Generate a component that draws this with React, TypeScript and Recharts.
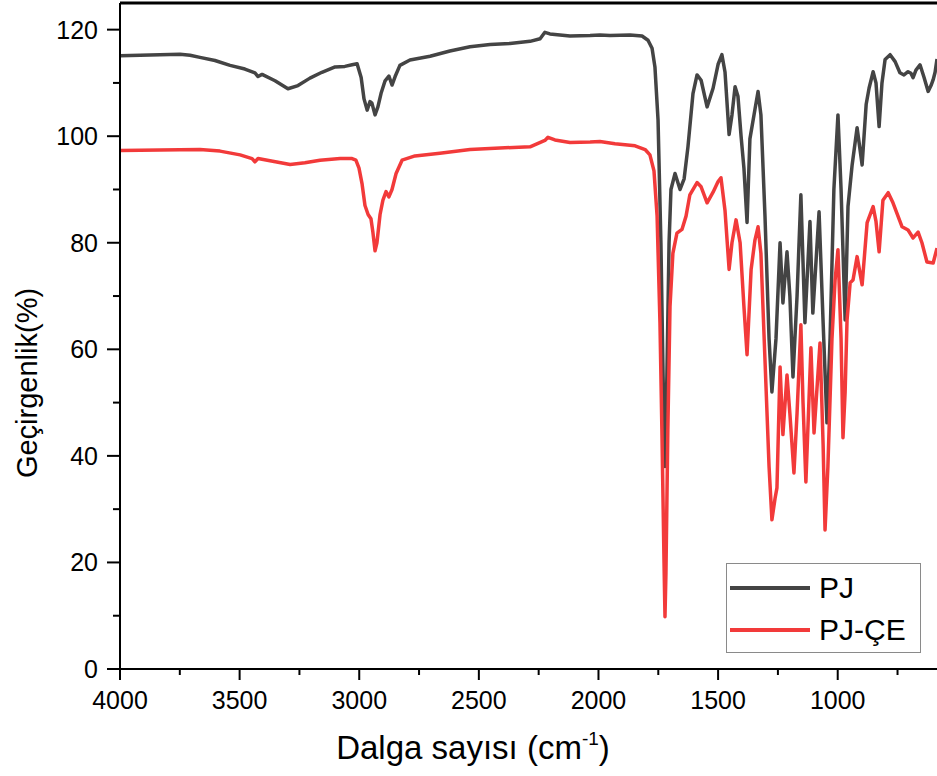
import { LineChart, Line, XAxis, YAxis, ReferenceLine, Legend, Label } from "recharts";

// PJ (black) spectrum, wavenumber (cm-1) and transmittance (%)
const pjWave = [
  4000, 3916, 3833, 3749, 3707, 3666, 3603, 3540, 3478, 3436, 3423, 3406, 3352, 3298, 3256, 3206,
  3156, 3101, 3060, 3030, 3009, 2992, 2980, 2967, 2955, 2947, 2934, 2922, 2909, 2892, 2876, 2863,
  2850, 2830, 2788, 2704, 2621, 2537, 2453, 2370, 2286, 2244, 2224, 2203, 2119, 2035, 1994, 1952,
  1868, 1818, 1793, 1776, 1764, 1751, 1739, 1730, 1722, 1714, 1705, 1697, 1680, 1659, 1642, 1626,
  1605, 1588, 1571, 1546, 1521, 1500, 1484, 1471, 1454, 1442, 1429, 1417, 1404, 1392, 1379, 1367,
  1346, 1333, 1321, 1304, 1287, 1275, 1258, 1241, 1229, 1212, 1200, 1187, 1170, 1154, 1137, 1116,
  1104, 1078, 1061, 1045, 1032, 1016, 999, 986, 969, 957, 940, 919, 898, 881, 869, 852,
  840, 827, 815, 802, 781, 760, 740, 723, 706, 694, 685, 673, 656, 639, 622, 610,
  601, 593, 585,
];
const pjValue = [
  115.1, 115.2, 115.3, 115.4, 115.2, 114.8, 114.2, 113.3, 112.6, 111.9, 111.2, 111.6, 110.4, 108.9, 109.5, 110.9,
  112, 113, 113.1, 113.4, 113.6, 111, 107, 104.9, 106.5, 106.2, 104, 105.5, 108, 110.4, 111.3, 109.6,
  111.2, 113.3, 114.3, 115, 116, 116.8, 117.2, 117.4, 117.8, 118.3, 119.5, 119.2, 118.8, 118.9, 119, 118.9,
  119, 118.8, 118, 116.5, 113, 103, 80, 55, 38, 55, 80, 90, 93, 90, 92, 98,
  108, 111.5, 110.5, 105.5, 109, 113.5, 115.3, 112, 100.3, 104, 109.3, 107.5, 100, 94, 83.8, 99.5,
  105, 108.4, 104, 85, 62, 52, 62, 80, 68.7, 78.3, 70, 54.8, 70, 89, 65, 84,
  66.8, 85.8, 65, 46.2, 62, 90, 104, 90, 65.5, 86.8, 94.5, 101.6, 94.6, 106, 109, 112.1,
  110, 101.8, 110, 114.4, 115.3, 114, 111.9, 111.5, 112.1, 111.8, 111, 112.4, 113.4, 111, 108.4, 109.5,
  110.6, 112, 114.5,
];

// PJ-ÇE (red) spectrum
const pjceWave = [
  4000, 3833, 3666, 3582, 3498, 3448, 3436, 3423, 3373, 3289, 3227, 3164, 3080, 3030, 3014, 3001,
  2988, 2976, 2963, 2951, 2943, 2934, 2926, 2913, 2901, 2888, 2876, 2863, 2846, 2821, 2767, 2663,
  2537, 2412, 2286, 2224, 2211, 2182, 2119, 2035, 1994, 1931, 1847, 1805, 1785, 1768, 1755, 1743,
  1735, 1726, 1722, 1718, 1710, 1701, 1689, 1672, 1651, 1634, 1618, 1588, 1571, 1546, 1521, 1500,
  1488, 1471, 1454, 1442, 1425, 1408, 1392, 1379, 1362, 1346, 1333, 1321, 1304, 1287, 1275, 1262,
  1254, 1241, 1229, 1212, 1200, 1183, 1170, 1154, 1145, 1133, 1112, 1099, 1074, 1061, 1053, 1041,
  1024, 1011, 999, 986, 978, 969, 961, 948, 936, 919, 898, 877, 852, 840, 827, 811,
  789, 769, 731, 706, 685, 664, 648, 627, 601, 585,
];
const pjceValue = [
  97.3, 97.4, 97.5, 97.2, 96.5, 95.8, 95.2, 95.8, 95.4, 94.7, 95, 95.5, 95.8, 95.8, 95.5, 94,
  91, 87, 85.3, 84.5, 82, 78.5, 80, 85.3, 88, 89.6, 88.6, 90, 93, 95.5, 96.3, 96.8,
  97.5, 97.8, 98, 99.2, 99.8, 99.3, 98.8, 98.9, 99, 98.6, 98.2, 97.5, 96.5, 93.5, 85, 65,
  45, 20, 9.8, 18, 45, 68, 78, 81.8, 82.5, 85, 89, 91.3, 90.5, 87.5, 89.5, 91.5,
  92.2, 86, 75, 80, 84.3, 80, 68, 59, 75, 80.5, 83, 78, 58, 38, 28, 32,
  34, 56.7, 44, 55.2, 48, 36.8, 48, 64.6, 50, 35.1, 60.3, 44.3, 61.2, 42, 26.1, 38,
  62, 73, 78.7, 62, 43.4, 52, 65.5, 72.5, 73, 77.4, 72.1, 83.8, 86.8, 84, 78.3, 88,
  89.4, 87.5, 83, 82.4, 80.9, 82, 80, 76.4, 76.2, 79,
];

const xTicks = [4000, 3750, 3500, 3250, 3000, 2750, 2500, 2250, 2000, 1750, 1500, 1250, 1000, 750];
const xLabels = [4000, 3500, 3000, 2500, 2000, 1500, 1000];
const yTicks = [0, 10, 20, 30, 40, 50, 60, 70, 80, 90, 100, 110, 120];
const yLabels = [0, 20, 40, 60, 80, 100, 120];

const pjData = pjWave.map((w, i) => ({ w, v: pjValue[i] }));
const pjceData = pjceWave.map((w, i) => ({ w, v: pjceValue[i] }));

const FONT = "Arial, 'Liberation Sans', sans-serif";
const BLACK = "#444444";
const RED = "#f23a3a";

const XTick = (props: any) => {
  const { x, y, payload } = props;
  const major = xLabels.includes(payload.value);
  return (
    <g>
      <line x1={x} x2={x} y1={y} y2={y + (major ? 11 : 6)} stroke="#000" strokeWidth={2} />
      {major && (
        <text x={x} y={y + 40} textAnchor="middle" fontSize={25} fontFamily={FONT} fill="#000">
          {payload.value}
        </text>
      )}
    </g>
  );
};

const YTick = (props: any) => {
  const { x, y, payload } = props;
  const major = yLabels.includes(payload.value);
  return (
    <g>
      <line x1={x} x2={x - (major ? 13 : 7)} y1={y} y2={y} stroke="#000" strokeWidth={2} />
      {major && (
        <text x={x - 22} y={y + 9} textAnchor="end" fontSize={25} fontFamily={FONT} fill="#000">
          {payload.value}
        </text>
      )}
    </g>
  );
};

const LegendBox = () => (
  <div
    style={{
      width: 195,
      height: 90,
      border: "1px solid #8a8a8a",
      background: "#fff",
      boxSizing: "border-box",
      fontFamily: FONT,
      fontSize: 30,
      color: "#000",
    }}
  >
    {[
      { name: "PJ", color: BLACK },
      { name: "PJ-ÇE", color: RED },
    ].map((item, i) => (
      <div key={item.name} style={{ display: "flex", alignItems: "center", height: 42, marginTop: i === 0 ? 3 : 0 }}>
        <div style={{ width: 80, height: 4, background: item.color, marginLeft: 3, marginRight: 9 }} />
        <span>{item.name}</span>
      </div>
    ))}
  </div>
);

export default function App() {
  return (
    <div style={{ width: 937, height: 776, background: "#fff", fontFamily: FONT }}>
      <style>{`body{margin:0}`}</style>
      <LineChart width={937} height={776} margin={{ top: 3, right: 0, bottom: 0, left: 0 }}>
        <XAxis
          type="number"
          dataKey="w"
          domain={[585, 4000]}
          reversed
          allowDataOverflow
          ticks={xTicks}
          interval={0}
          tick={<XTick />}
          tickLine={false}
          tickSize={0}
          tickMargin={0}
          height={107}
          axisLine={{ stroke: "#000", strokeWidth: 2 }}
        >
          <Label
            content={() => (
              <text x={473} y={759} textAnchor="middle" fontSize={33} fontFamily={FONT} fill="#000">
                Dalga sayısı (cm
                <tspan dy={-14} fontSize={19}>-1</tspan>
                <tspan dy={14}>)</tspan>
              </text>
            )}
          />
        </XAxis>
        <YAxis
          type="number"
          domain={[0, 125]}
          ticks={yTicks}
          interval={0}
          tick={<YTick />}
          tickLine={false}
          tickSize={0}
          tickMargin={0}
          width={120}
          allowDataOverflow
          axisLine={{ stroke: "#000", strokeWidth: 2 }}
        >
          <Label
            content={() => (
              <text
                x={37}
                y={383}
                transform="rotate(-90 37 383)"
                textAnchor="middle"
                fontSize={29}
                fontFamily={FONT}
                fill="#000"
              >
                Geçirgenlik(%)
              </text>
            )}
          />
        </YAxis>
        <ReferenceLine y={125} stroke="#000" strokeWidth={3} ifOverflow="extendDomain" />
        <Line
          data={pjData}
          dataKey="v"
          type="linear"
          stroke={BLACK}
          strokeWidth={3.5}
          strokeLinejoin="round"
          dot={false}
          isAnimationActive={false}
          name="PJ"
        />
        <Line
          data={pjceData}
          dataKey="v"
          type="linear"
          stroke={RED}
          strokeWidth={3.5}
          strokeLinejoin="round"
          dot={false}
          isAnimationActive={false}
          name="PJ-ÇE"
        />
        <Legend
          layout="horizontal"
          verticalAlign="middle"
          align="center"
          content={<LegendBox />}
          wrapperStyle={{ left: 726, top: 563, width: 195 }}
        />
      </LineChart>
    </div>
  );
}
